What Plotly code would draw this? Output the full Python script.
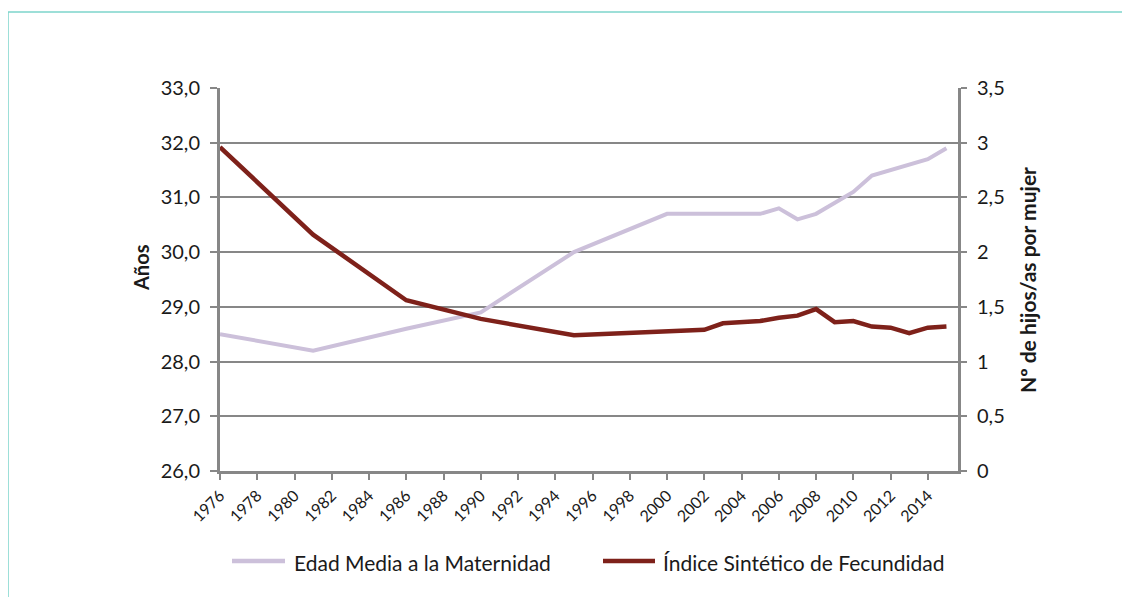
import plotly.graph_objects as go

# ---- data ----
edad_years = [1976, 1981, 1986, 1990, 1995, 2000, 2001, 2002, 2003, 2004, 2005, 2006, 2007,
              2008, 2009, 2010, 2011, 2012, 2013, 2014, 2015]
edad_media = [28.5, 28.2, 28.6, 28.9, 30.0, 30.7, 30.7, 30.7, 30.7, 30.7, 30.7, 30.8, 30.6,
              30.7, 30.9, 31.1, 31.4, 31.5, 31.6, 31.7, 31.9]

isf_years = [1976, 1981, 1986, 1990, 1995, 2000, 2001, 2002, 2003, 2004, 2005, 2006, 2007,
             2008, 2009, 2010, 2011, 2012, 2013, 2014, 2015]
isf = [2.96, 2.16, 1.56, 1.39, 1.24, 1.27, 1.28, 1.29, 1.35, 1.36, 1.37, 1.40, 1.42,
       1.48, 1.36, 1.37, 1.32, 1.31, 1.26, 1.31, 1.32]

x_ticks = list(range(1976, 2015, 2))
x_ticktext = [str(y) for y in x_ticks]
left_ticks = [26, 27, 28, 29, 30, 31, 32, 33]
left_ticktext = ["26,0", "27,0", "28,0", "29,0", "30,0", "31,0", "32,0", "33,0"]
right_ticks = [0, 0.5, 1, 1.5, 2, 2.5, 3, 3.5]
right_ticktext = ["0", "0,5", "1", "1,5", "2", "2,5", "3", "3,5"]

name_edad = "Edad Media a la Maternidad"
name_isf = "Índice Sintético de Fecundidad"
title_left = "Años"
title_right = "Nº de hijos/as por mujer"

COL_EDAD = "#ccc0da"
COL_ISF = "#7e211a"

# ---- layout constants (page has an 8px body margin) ----
OFF = 8
W, H = 1130 - OFF, 597 - OFF
L, R = 220 - OFF, W - (958 - OFF)
T, B = 88 - OFF, H - (471 - OFF)
PW, PH = W - L - R, H - T - B
FONT = "Lato, 'Liberation Sans', sans-serif"
GRID = "#878787"
TEAL = "#7dd5cb"

def px_x(xpage):
    return (xpage - OFF - L) / PW

def px_y(ypage):
    return (H - B - (ypage - OFF)) / PH

fig = go.Figure()
fig.add_trace(go.Scatter(x=edad_years, y=edad_media, name=name_edad, mode="lines",
                         line=dict(color=COL_EDAD, width=4), yaxis="y"))
fig.add_trace(go.Scatter(x=isf_years, y=isf, name=name_isf, mode="lines",
                         line=dict(color=COL_ISF, width=4.5), yaxis="y2"))

fig.update_layout(
    width=W, height=H,
    margin=dict(l=L, r=R, t=T, b=B, autoexpand=False),
    paper_bgcolor="white", plot_bgcolor="white",
    separators=",.",
    font=dict(family=FONT, color="#1a1a1a", size=20),
    xaxis=dict(range=[1976, 2015.62], tickvals=x_ticks, ticktext=x_ticktext,
               tickangle=-45, tickfont=dict(size=16), showgrid=False,
               showline=True, linecolor=GRID, linewidth=3,
               ticks="outside", ticklen=6, tickwidth=2, tickcolor=GRID, zeroline=False),
    yaxis=dict(range=[26, 33], tickvals=left_ticks, ticktext=left_ticktext,
               showgrid=True, gridcolor=GRID, gridwidth=2,
               showline=True, linecolor=GRID, linewidth=3,
               ticks="outside", ticklen=7, tickwidth=2, tickcolor=GRID, zeroline=False,
               tickfont=dict(size=20), ticklabelstandoff=6),
    yaxis2=dict(range=[0, 3.5], tickvals=right_ticks, ticktext=right_ticktext,
                overlaying="y", side="right", showgrid=False,
                showline=True, linecolor=GRID, linewidth=3,
                ticks="outside", ticklen=6, tickwidth=2, tickcolor=GRID, zeroline=False,
                tickfont=dict(size=20), ticklabelstandoff=6),
    showlegend=False,
)

# axis titles
fig.add_annotation(text=f"<b>{title_left}</b>", xref="paper", yref="paper",
                   x=px_x(141), y=px_y(268), textangle=-90, showarrow=False,
                   font=dict(size=20), xanchor="center", yanchor="middle")
fig.add_annotation(text=f"<b>{title_right}</b>", xref="paper", yref="paper",
                   x=px_x(1027), y=px_y(280), textangle=-90, showarrow=False,
                   font=dict(size=21), xanchor="center", yanchor="middle")

# legend (drawn manually to match the reference geometry)
legend_items = [(name_edad, COL_EDAD, 232, 285, 292), (name_isf, COL_ISF, 603, 655, 661)]
for label, col, lx0, lx1, tx in legend_items:
    fig.add_shape(type="line", xref="paper", yref="paper", x0=px_x(lx0), x1=px_x(lx1),
                  y0=px_y(561), y1=px_y(561), line=dict(color=col, width=4.5))
    fig.add_annotation(text=label, xref="paper", yref="paper", x=px_x(tx), y=px_y(562),
                       showarrow=False, xanchor="left", yanchor="middle",
                       font=dict(size=21))

# teal frame (top and left)
fig.add_shape(type="line", xref="paper", yref="paper", x0=px_x(8), x1=px_x(1140),
              y0=px_y(12), y1=px_y(12), line=dict(color=TEAL, width=1.5))
fig.add_shape(type="line", xref="paper", yref="paper", x0=px_x(8), x1=px_x(8),
              y0=px_y(12), y1=px_y(610), line=dict(color=TEAL, width=1.5))

fig.write_html("out.html")
